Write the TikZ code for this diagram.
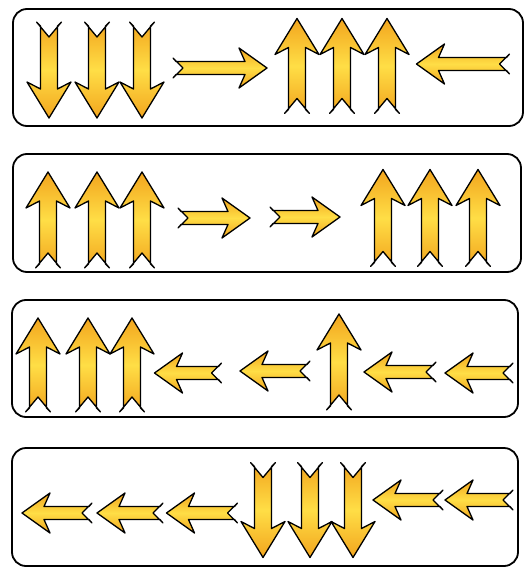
\documentclass[tikz,border=0pt]{standalone}
\begin{document}
\definecolor{arrY}{RGB}{255,222,70}
\definecolor{arrO}{RGB}{242,165,30}
\begin{tikzpicture}[x=1pt,y=-1pt,
  box/.style={draw=black, line width=1.8pt, rounded corners=14pt},
  arrfill/.style={draw=black, line width=1.3pt, line join=round,
     top color=arrO, bottom color=arrO, middle color=arrY},
  pics/harr/.style={code={
     \path[arrfill] ({#1/2},0) -- ({#1/2-28},20) -- ({#1/2-22},6.5) -- ({-#1/2+3},6.5)
        -- ({-#1/2},10) -- ({-#1/2+10},0) -- ({-#1/2},-10) -- ({-#1/2+3},-6.5)
        -- ({#1/2-22},-6.5) -- ({#1/2-28},-20) -- cycle;}},
  pics/varr/.style={code={
     \path[arrfill] ({#1/2},0) -- ({#1/2-36},22) -- ({#1/2-29},8.5) -- ({-#1/2+4},8.5)
        -- ({-#1/2},12.5) -- ({-#1/2+15},0) -- ({-#1/2},-12.5) -- ({-#1/2+4},-8.5)
        -- ({#1/2-29},-8.5) -- ({#1/2-36},-22) -- cycle;}},
  up/.style={rotate=90}, down/.style={rotate=-90}, left/.style={rotate=180}
]
\useasboundingbox (0,0) rectangle (529,569);
\fill[white] (0,0) rectangle (529,569);

% boxes
\draw[box] (13,9) rectangle (523,126);
\draw[box] (13,154) rectangle (521,272);
\draw[box] (12,300) rectangle (518,417);
\draw[box] (12,448) rectangle (518,566);

% row 1
\pic[down] (a1) at (49,70) {varr=96};
\pic[down] (a2) at (97,70) {varr=96};
\pic[down] (a3) at (142,70) {varr=96};
\pic (a4) at (220,68) {harr=94};
\pic[up] (a5) at (297,66) {varr=95};
\pic[up] (a6) at (342,66) {varr=95};
\pic[up] (a7) at (387,66) {varr=95};
\pic[left] (a8) at (463,64) {harr=93};

% row 2
\pic[up] (b1) at (48,220) {varr=96};
\pic[up] (b2) at (97,220) {varr=96};
\pic[up] (b3) at (142,220) {varr=96};
\pic (b4) at (214,218) {harr=72};
\pic (b5) at (305,217) {harr=70};
\pic[up] (b6) at (383,218) {varr=97};
\pic[up] (b7) at (430,218) {varr=97};
\pic[up] (b8) at (478,218) {varr=97};

% row 3
\pic[up] (c1) at (38,365) {varr=94};
\pic[up] (c2) at (88,365) {varr=94};
\pic[up] (c3) at (132,365) {varr=94};
\pic[left] (c4) at (188,373) {harr=67};
\pic[left] (c5) at (275,371) {harr=70};
\pic[up] (c6) at (339,362) {varr=96};
\pic[left] (c7) at (400,372) {harr=72};
\pic[left] (c8) at (479,373) {harr=68};

% row 4
\pic[left] (d1) at (57,513) {harr=70};
\pic[left] (d2) at (130,513) {harr=66};
\pic[left] (d3) at (202,513) {harr=71};
\pic[down] (d4) at (263,510) {varr=95};
\pic[down] (d5) at (310,510) {varr=95};
\pic[down] (d6) at (353,510) {varr=95};
\pic[left] (d7) at (408,500) {harr=70};
\pic[left] (d8) at (479,500) {harr=68};
\end{tikzpicture}
\end{document}
